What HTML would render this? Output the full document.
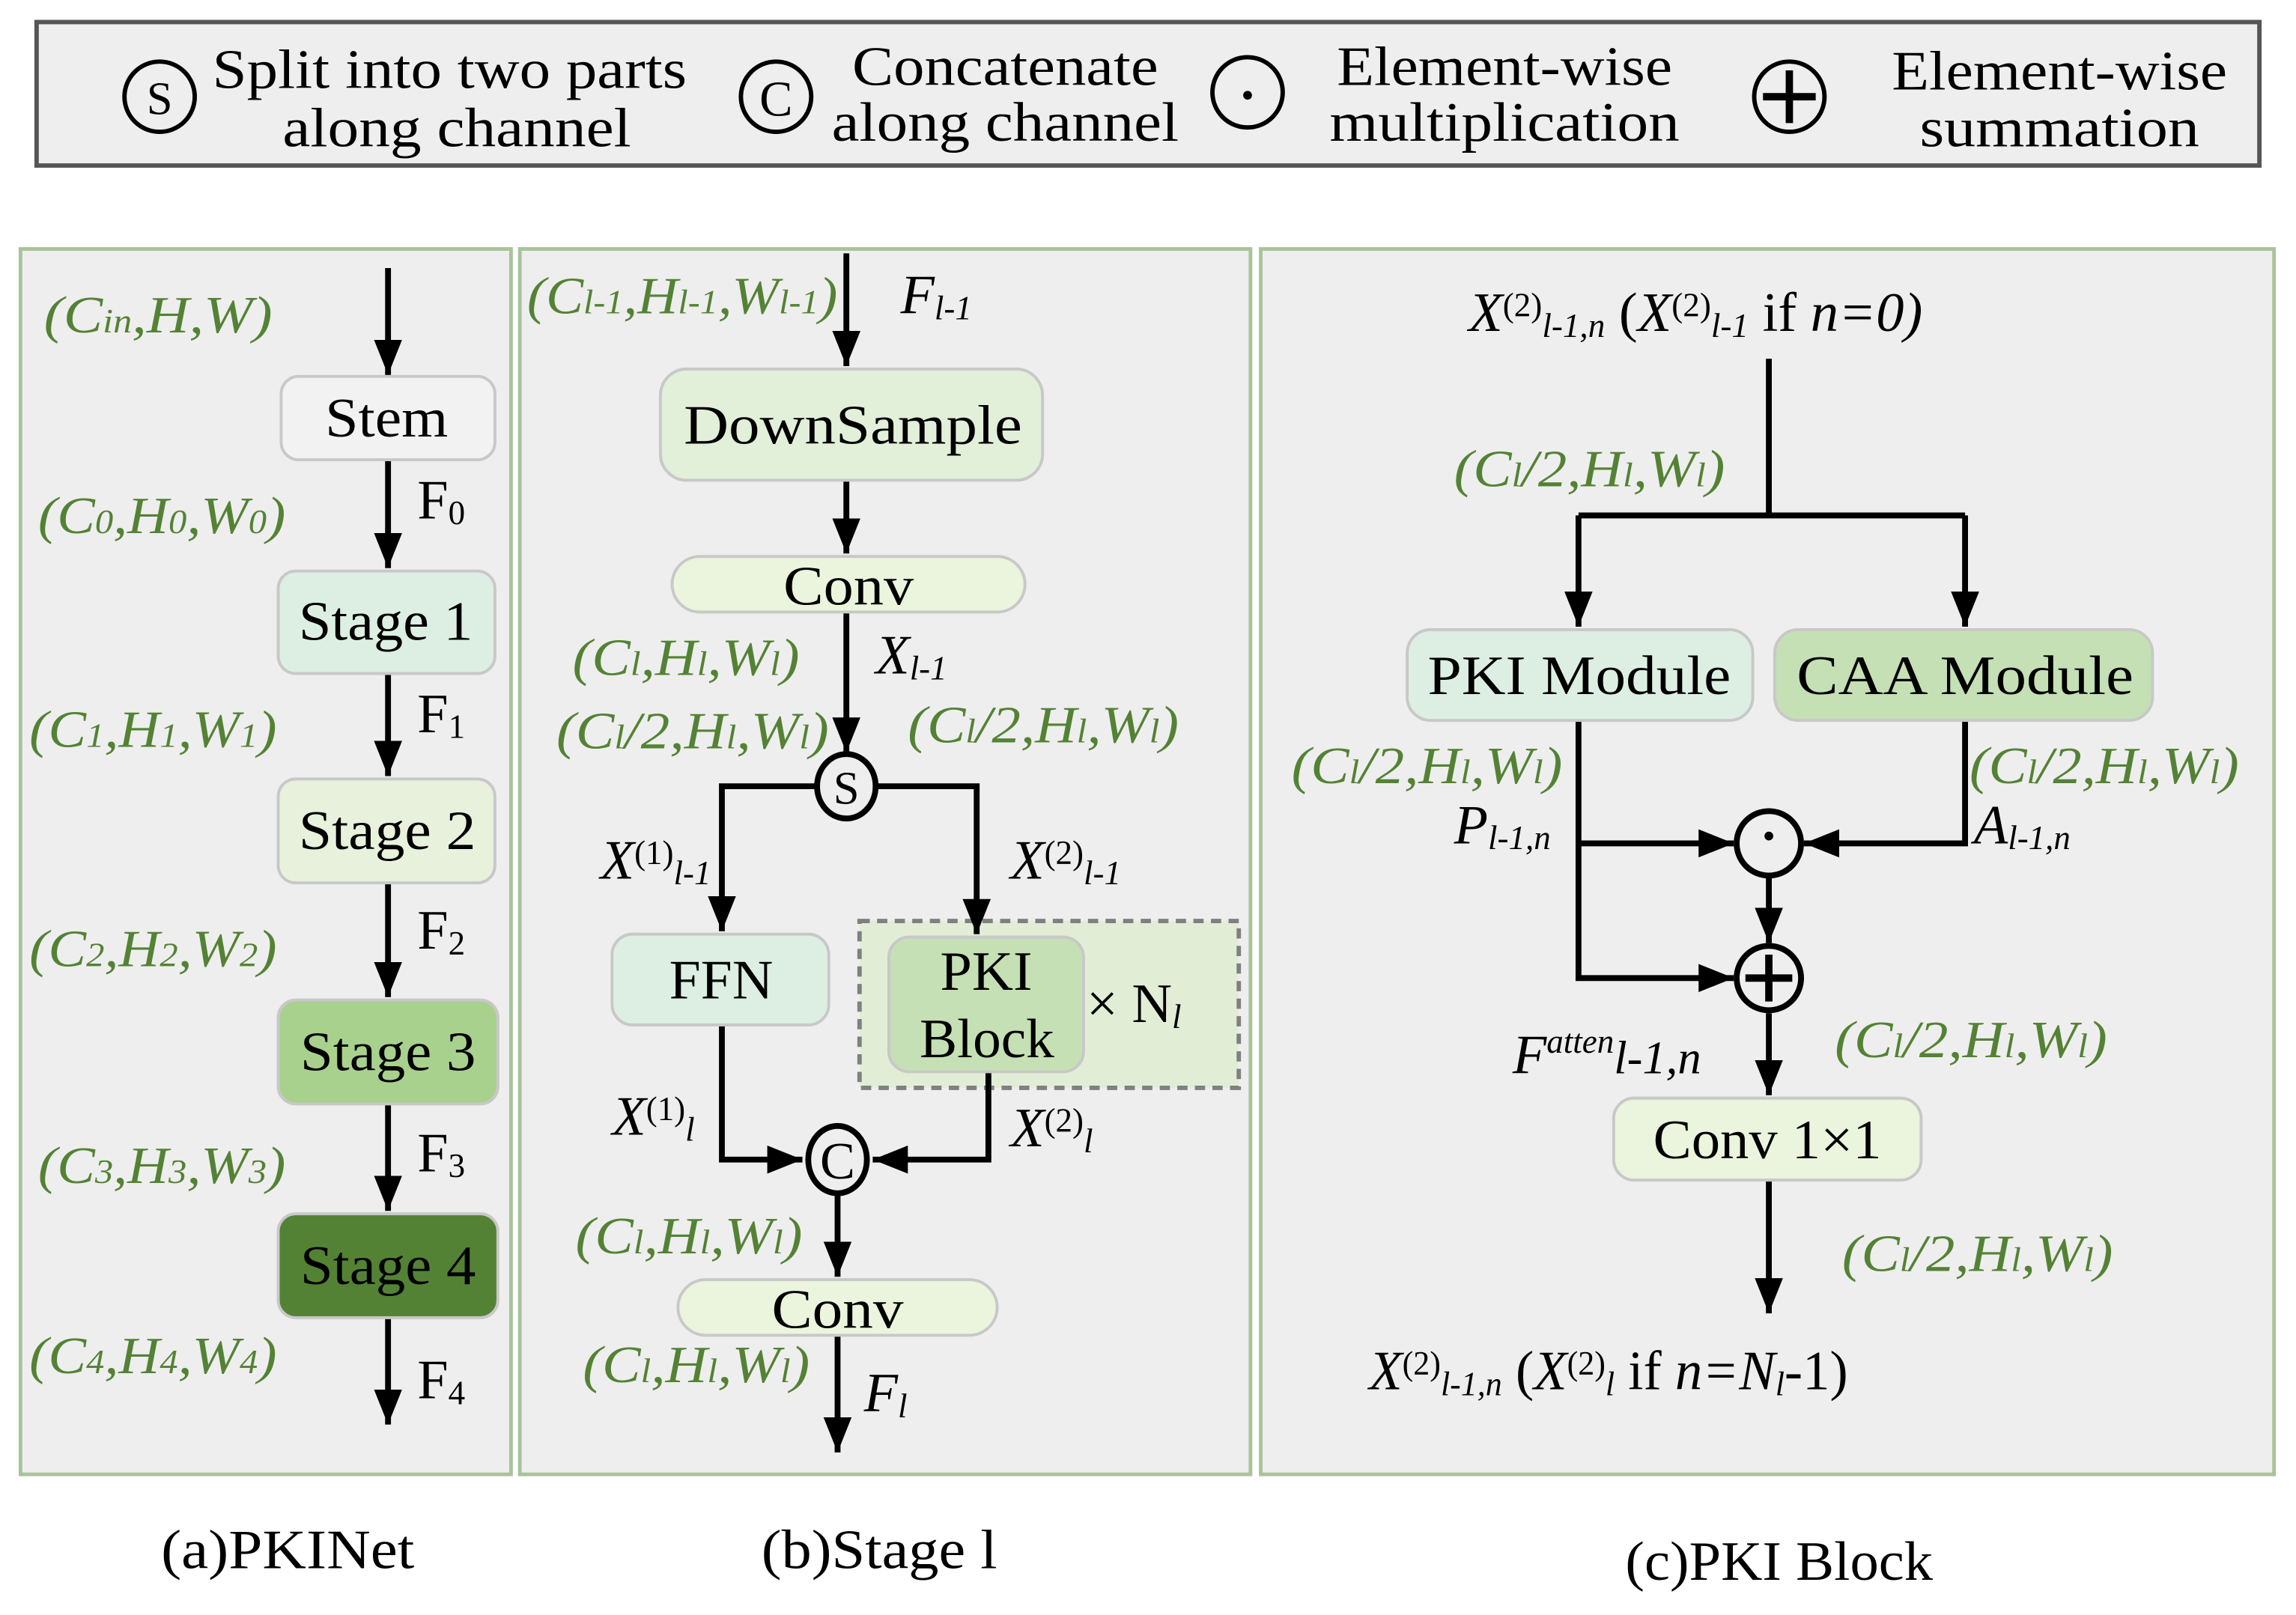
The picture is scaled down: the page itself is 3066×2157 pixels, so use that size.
<!DOCTYPE html>
<html><head><meta charset="utf-8"><style>
html,body{margin:0;padding:0;background:#fff;}
svg{display:block;}
text{font-family:"Liberation Serif",serif;}
.g{fill:#548235;font-style:italic;font-size:36px;}
.b{font-size:38px;fill:#000;}
.i{font-style:italic;}
.s{font-size:23px;}
</style></head><body>
<svg width="3066" height="2157" viewBox="0 0 1568 1103" xmlns="http://www.w3.org/2000/svg">
<defs>
<marker id="a" viewBox="0 0 10 10" refX="10" refY="5" markerWidth="24" markerHeight="24" markerUnits="userSpaceOnUse" orient="auto"><path d="M0,1 L10,5 L0,9z" fill="#000"/></marker>
</defs>
<rect width="1568" height="1103" fill="#fff"/>
<!-- legend -->
<rect x="25" y="15" width="1518" height="98" fill="#eeeeee" stroke="#555" stroke-width="3"/>
<g stroke="#000" stroke-width="3" fill="none">
<circle cx="109" cy="66" r="24"/><circle cx="530" cy="66" r="24"/><circle cx="852" cy="63" r="24"/><circle cx="1222" cy="66" r="24"/>
</g>
<text x="109" y="78" text-anchor="middle" font-size="32">S</text>
<text x="530" y="79" text-anchor="middle" font-size="34">C</text>
<circle cx="852" cy="65" r="3" fill="#000"/>
<path d="M1222 48 V84 M1204 66 H1240" stroke="#000" stroke-width="5"/>
<g class="b" font-size="38" lengthAdjust="spacingAndGlyphs">
<text x="145" y="60" textLength="324" lengthAdjust="spacingAndGlyphs">Split into two parts</text><text x="193" y="100" textLength="238" lengthAdjust="spacingAndGlyphs">along channel</text>
<text x="582" y="58" textLength="209" lengthAdjust="spacingAndGlyphs">Concatenate</text><text x="568" y="96" textLength="237" lengthAdjust="spacingAndGlyphs">along channel</text>
<text x="913" y="58" textLength="229" lengthAdjust="spacingAndGlyphs">Element-wise</text><text x="908" y="96" textLength="239" lengthAdjust="spacingAndGlyphs">multiplication</text>
<text x="1292" y="61" textLength="229" lengthAdjust="spacingAndGlyphs">Element-wise</text><text x="1311" y="100" textLength="191" lengthAdjust="spacingAndGlyphs">summation</text>
</g>
<!-- panels -->
<g fill="#eeeeee" stroke="#a9c39a" stroke-width="2.5">
<rect x="14" y="170" width="335" height="837"/>
<rect x="355" y="170" width="499" height="837"/>
<rect x="861" y="170" width="692" height="837"/>
</g>
<!-- panel a -->
<g stroke="#c8c8c8" stroke-width="2">
<rect x="192" y="257" width="146" height="57" rx="12" fill="#f2f2f2"/>
<rect x="190" y="390" width="148" height="70" rx="12" fill="#dcefe2"/>
<rect x="190" y="532" width="148" height="71" rx="12" fill="#e7f1dc"/>
<rect x="190" y="683" width="150" height="71" rx="12" fill="#a9d18e"/>
<rect x="190" y="829" width="150" height="71" rx="12" fill="#548235"/>
</g>
<g class="b">
<text x="222" y="298" textLength="84" lengthAdjust="spacingAndGlyphs">Stem</text>
<text x="204" y="437" textLength="119" lengthAdjust="spacingAndGlyphs">Stage 1</text>
<text x="204" y="580" textLength="121" lengthAdjust="spacingAndGlyphs">Stage 2</text>
<text x="205" y="731" textLength="120" lengthAdjust="spacingAndGlyphs">Stage 3</text>
<text x="205" y="877" textLength="120" lengthAdjust="spacingAndGlyphs">Stage 4</text>
</g>
<g stroke="#000" stroke-width="4" marker-end="url(#a)">
<line x1="265" y1="183" x2="265" y2="256"/><line x1="265" y1="315" x2="265" y2="388"/><line x1="265" y1="461" x2="265" y2="530"/><line x1="265" y1="604" x2="265" y2="681"/><line x1="265" y1="755" x2="265" y2="827"/><line x1="265" y1="901" x2="265" y2="973"/>
</g>
<g class="b" font-size="32"><text x="285" y="354">F<tspan class="s" dy="4">0</tspan></text><text x="285" y="500">F<tspan class="s" dy="4">1</tspan></text><text x="285" y="648">F<tspan class="s" dy="4">2</tspan></text><text x="285" y="800">F<tspan class="s" dy="4">3</tspan></text><text x="285" y="955">F<tspan class="s" dy="4">4</tspan></text></g>
<g class="g">
<text x="30" y="227" textLength="156" lengthAdjust="spacingAndGlyphs">(C<tspan class="s">in</tspan>,H,W)</text>
<text x="26" y="364" textLength="169" lengthAdjust="spacingAndGlyphs">(C<tspan class="s">0</tspan>,H<tspan class="s">0</tspan>,W<tspan class="s">0</tspan>)</text>
<text x="20" y="510" textLength="169" lengthAdjust="spacingAndGlyphs">(C<tspan class="s">1</tspan>,H<tspan class="s">1</tspan>,W<tspan class="s">1</tspan>)</text>
<text x="20" y="660" textLength="169" lengthAdjust="spacingAndGlyphs">(C<tspan class="s">2</tspan>,H<tspan class="s">2</tspan>,W<tspan class="s">2</tspan>)</text>
<text x="26" y="808" textLength="169" lengthAdjust="spacingAndGlyphs">(C<tspan class="s">3</tspan>,H<tspan class="s">3</tspan>,W<tspan class="s">3</tspan>)</text>
<text x="20" y="938" textLength="169" lengthAdjust="spacingAndGlyphs">(C<tspan class="s">4</tspan>,H<tspan class="s">4</tspan>,W<tspan class="s">4</tspan>)</text>
</g>
<!-- panel b -->
<rect x="587" y="629" width="259" height="114" fill="#e2edd6" stroke="#808080" stroke-width="3" stroke-dasharray="7,5"/>
<g stroke="#c8c8c8" stroke-width="2">
<rect x="451" y="252" width="261" height="76" rx="18" fill="#e2efd9"/>
<rect x="459" y="380" width="241" height="38" rx="19" fill="#ebf4dc"/>
<rect x="418" y="638" width="148" height="62" rx="14" fill="#dcefe2"/>
<rect x="607" y="640" width="133" height="92" rx="14" fill="#c5e0b4"/>
<rect x="463" y="874" width="218" height="38" rx="19" fill="#ebf4dc"/>
</g>
<g class="b">
<text x="467" y="303" textLength="231" lengthAdjust="spacingAndGlyphs">DownSample</text>
<text x="535" y="413" textLength="89" lengthAdjust="spacingAndGlyphs">Conv</text>
<text x="457" y="682" textLength="71" lengthAdjust="spacingAndGlyphs">FFN</text>
<text x="642" y="676" textLength="63" lengthAdjust="spacingAndGlyphs">PKI</text>
<text x="628" y="722" textLength="92" lengthAdjust="spacingAndGlyphs">Block</text>
<text x="527" y="907" textLength="90" lengthAdjust="spacingAndGlyphs">Conv</text>
</g>
<text x="742" y="698" class="b" font-size="32">× N<tspan class="s i" dy="4">l</tspan></text>
<g stroke="#000" stroke-width="4" fill="none">
<line x1="578" y1="173" x2="578" y2="250" marker-end="url(#a)"/>
<line x1="578" y1="329" x2="578" y2="378" marker-end="url(#a)"/>
<line x1="578" y1="419" x2="578" y2="514" marker-end="url(#a)"/>
<polyline points="557,537 493,537 493,636" marker-end="url(#a)"/>
<polyline points="599,537 667,537 667,638" marker-end="url(#a)"/>
<polyline points="493,701 493,792 548,792" marker-end="url(#a)"/>
<polyline points="675,733 675,792 596,792" marker-end="url(#a)"/>
<line x1="572" y1="815" x2="572" y2="872" marker-end="url(#a)"/>
<line x1="572" y1="913" x2="572" y2="992" marker-end="url(#a)"/>
<ellipse cx="578" cy="537" rx="20" ry="22" fill="#eee"/>
<ellipse cx="572" cy="792" rx="20" ry="23" fill="#eee"/>
</g>
<text x="578" y="549" text-anchor="middle" font-size="32">S</text>
<text x="572" y="805" text-anchor="middle" font-size="36">C</text>
<g class="b" font-size="34">
<text x="615" y="214" class="i">F<tspan class="s" dy="4">l-1</tspan></text>
<text x="598" y="460" class="i">X<tspan class="s" dy="4">l-1</tspan></text>
<text x="410" y="600" class="i">X<tspan class="s" font-style="normal" dy="-10">(1)</tspan><tspan class="s" dy="14">l-1</tspan></text>
<text x="690" y="600" class="i">X<tspan class="s" font-style="normal" dy="-10">(2)</tspan><tspan class="s" dy="14">l-1</tspan></text>
<text x="418" y="775" class="i">X<tspan class="s" font-style="normal" dy="-10">(1)</tspan><tspan class="s" dy="14">l</tspan></text>
<text x="690" y="783" class="i">X<tspan class="s" font-style="normal" dy="-10">(2)</tspan><tspan class="s" dy="14">l</tspan></text>
<text x="590" y="964" class="i">F<tspan class="s" dy="4">l</tspan></text>
</g>
<g class="g">
<text x="360" y="214" textLength="212" lengthAdjust="spacingAndGlyphs">(C<tspan class="s">l-1</tspan>,H<tspan class="s">l-1</tspan>,W<tspan class="s">l-1</tspan>)</text>
<text x="391" y="461" textLength="155" lengthAdjust="spacingAndGlyphs">(C<tspan class="s">l</tspan>,H<tspan class="s">l</tspan>,W<tspan class="s">l</tspan>)</text>
<text x="380" y="511" textLength="186" lengthAdjust="spacingAndGlyphs">(C<tspan class="s">l</tspan>/2,H<tspan class="s">l</tspan>,W<tspan class="s">l</tspan>)</text>
<text x="620" y="507" textLength="185" lengthAdjust="spacingAndGlyphs">(C<tspan class="s">l</tspan>/2,H<tspan class="s">l</tspan>,W<tspan class="s">l</tspan>)</text>
<text x="393" y="856" textLength="155" lengthAdjust="spacingAndGlyphs">(C<tspan class="s">l</tspan>,H<tspan class="s">l</tspan>,W<tspan class="s">l</tspan>)</text>
<text x="398" y="944" textLength="155" lengthAdjust="spacingAndGlyphs">(C<tspan class="s">l</tspan>,H<tspan class="s">l</tspan>,W<tspan class="s">l</tspan>)</text>
</g>
<!-- panel c -->
<g stroke="#c8c8c8" stroke-width="2">
<rect x="961" y="430" width="236" height="62" rx="16" fill="#dcefe2"/>
<rect x="1212" y="430" width="258" height="62" rx="16" fill="#c5e0b4"/>
<rect x="1102" y="750" width="210" height="56" rx="14" fill="#ebf4dc"/>
</g>
<g class="b">
<text x="975" y="474" textLength="207" lengthAdjust="spacingAndGlyphs">PKI Module</text>
<text x="1227" y="474" textLength="230" lengthAdjust="spacingAndGlyphs">CAA Module</text>
<text x="1129" y="791" textLength="156" lengthAdjust="spacingAndGlyphs">Conv 1×1</text>
</g>
<g stroke="#000" stroke-width="4" fill="none">
<line x1="1208" y1="245" x2="1208" y2="352"/>
<line x1="1078" y1="352" x2="1342" y2="352"/>
<line x1="1078" y1="352" x2="1078" y2="428" marker-end="url(#a)"/>
<line x1="1342" y1="352" x2="1342" y2="428" marker-end="url(#a)"/>
<polyline points="1078,493 1078,668 1184,668" marker-end="url(#a)"/>
<line x1="1078" y1="576" x2="1184" y2="576" marker-end="url(#a)"/>
<polyline points="1342,493 1342,576 1232,576" marker-end="url(#a)"/>
<line x1="1208" y1="599" x2="1208" y2="644" marker-end="url(#a)"/>
<line x1="1208" y1="692" x2="1208" y2="748" marker-end="url(#a)"/>
<line x1="1208" y1="807" x2="1208" y2="897" marker-end="url(#a)"/>
<circle cx="1208" cy="576" r="22" fill="#eee"/>
<circle cx="1208" cy="668" r="22" fill="#eee"/>
</g>
<circle cx="1208" cy="571" r="3" fill="#000"/>
<path d="M1208 652 V684 M1192 668 H1224" stroke="#000" stroke-width="5"/>
<g class="b" font-size="34">
<text x="1003" y="226" textLength="310" lengthAdjust="spacingAndGlyphs"><tspan class="i">X</tspan><tspan class="s" dy="-10">(2)</tspan><tspan class="s i" dy="14">l-1,n</tspan><tspan dy="-4"> (</tspan><tspan class="i">X</tspan><tspan class="s" dy="-10">(2)</tspan><tspan class="s i" dy="14">l-1</tspan><tspan dy="-4"> if </tspan><tspan class="i">n=0)</tspan></text>
<text x="993" y="576" class="i">P<tspan class="s" dy="4">l-1,n</tspan></text>
<text x="1348" y="576" class="i">A<tspan class="s" dy="4">l-1,n</tspan></text>
<text x="1033" y="733" class="i">F<tspan class="s" font-size="26" dy="-14">atten</tspan><tspan dy="14" font-size="32">l-1,n</tspan></text>
<text x="935" y="949" textLength="327" lengthAdjust="spacingAndGlyphs"><tspan class="i">X</tspan><tspan class="s" dy="-10">(2)</tspan><tspan class="s i" dy="14">l-1,n</tspan><tspan dy="-4"> (</tspan><tspan class="i">X</tspan><tspan class="s" dy="-10">(2)</tspan><tspan class="s i" dy="14">l</tspan><tspan dy="-4"> if </tspan><tspan class="i">n=N</tspan><tspan class="s i" dy="4">l</tspan><tspan dy="-4">-1)</tspan></text>
</g>
<g class="g">
<text x="993" y="332" textLength="185" lengthAdjust="spacingAndGlyphs">(C<tspan class="s">l</tspan>/2,H<tspan class="s">l</tspan>,W<tspan class="s">l</tspan>)</text>
<text x="882" y="535" textLength="185" lengthAdjust="spacingAndGlyphs">(C<tspan class="s">l</tspan>/2,H<tspan class="s">l</tspan>,W<tspan class="s">l</tspan>)</text>
<text x="1345" y="535" textLength="184" lengthAdjust="spacingAndGlyphs">(C<tspan class="s">l</tspan>/2,H<tspan class="s">l</tspan>,W<tspan class="s">l</tspan>)</text>
<text x="1253" y="722" textLength="186" lengthAdjust="spacingAndGlyphs">(C<tspan class="s">l</tspan>/2,H<tspan class="s">l</tspan>,W<tspan class="s">l</tspan>)</text>
<text x="1258" y="868" textLength="185" lengthAdjust="spacingAndGlyphs">(C<tspan class="s">l</tspan>/2,H<tspan class="s">l</tspan>,W<tspan class="s">l</tspan>)</text>
</g>
<!-- captions -->
<g class="b" font-size="36">
<text x="110" y="1071" textLength="173" lengthAdjust="spacingAndGlyphs">(a)PKINet</text>
<text x="520" y="1071" textLength="161" lengthAdjust="spacingAndGlyphs">(b)Stage l</text>
<text x="1110" y="1079" textLength="210" lengthAdjust="spacingAndGlyphs">(c)PKI Block</text>
</g>
</svg>
</body></html>
